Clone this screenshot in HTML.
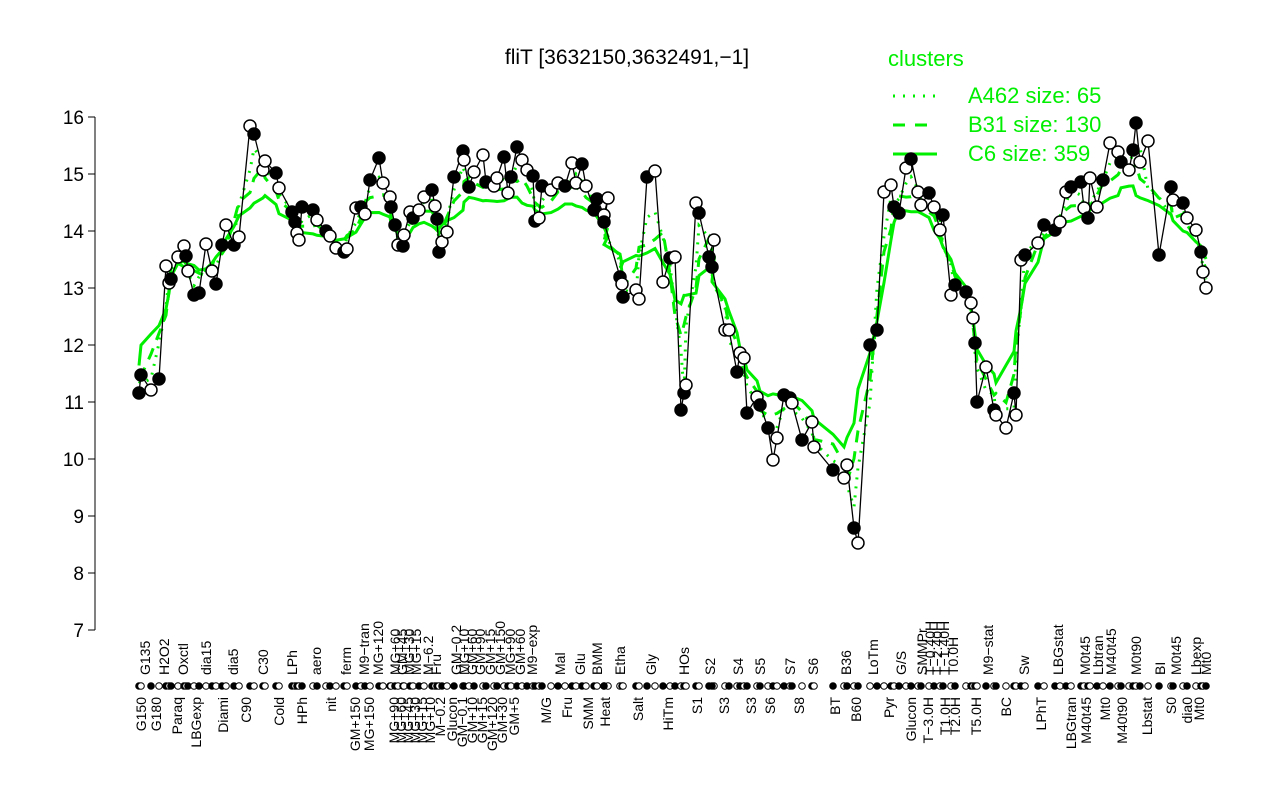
<!DOCTYPE html>
<html><head><meta charset="utf-8"><style>
html,body{margin:0;padding:0;background:#fff;width:1280px;height:800px;overflow:hidden}
svg{display:block;font-family:"Liberation Sans",sans-serif}
</style></head><body>
<svg id="s" width="1280" height="800" viewBox="0 0 1280 800" xmlns="http://www.w3.org/2000/svg">
<text x="627" y="64" font-size="21" text-anchor="middle">fliT [3632150,3632491,−1]</text>
<g fill="#00ee00" font-size="22">
<text x="888" y="66">clusters</text>
<text x="968" y="103">A462 size: 65</text>
<text x="968" y="132">B31 size: 130</text>
<text x="968" y="161">C6 size: 359</text>
</g>
<line x1="893" y1="96" x2="937" y2="96" stroke="#00ee00" stroke-width="3" stroke-dasharray="2,8"/>
<line x1="893" y1="125" x2="937" y2="125" stroke="#00ee00" stroke-width="3" stroke-dasharray="12,10"/>
<line x1="893" y1="154" x2="937" y2="154" stroke="#00ee00" stroke-width="3"/>
<line x1="95" y1="117" x2="95" y2="630" stroke="#000"/>
<g id="ax" font-size="19" text-anchor="end"></g>
<g id="gr" fill="none" stroke="#00ee00" stroke-width="3"></g>
<g id="bl"></g>
<g id="lb" font-size="14"></g>
</svg>
<script>
var P=[[139,393],[141,375],[151,390],[159,379],[166,266],[169,283],[171,279],[178,257],[184,246],[186,256],[188,271],[194,295],[199,293],[206,244],[212,271],[216,284],[222,245],[226,225],[234,245],[239,237],[250,126],[254,134],[263,170],[265,161],[276,173],[279,188],[292,212],[295,222],[297,233],[299,240],[302,207],[313,210],[317,220],[326,231],[330,236],[336,248],[344,252],[347,249],[356,208],[361,207],[365,214],[370,180],[379,158],[383,183],[390,197],[391,207],[395,225],[398,245],[403,246],[404,235],[410,212],[413,218],[419,210],[424,197],[432,190],[435,206],[437,219],[439,252],[442,242],[447,232],[454,177],[463,151],[464,160],[469,187],[474,172],[483,155],[486,182],[494,186],[497,178],[504,157],[508,193],[511,177],[517,147],[522,160],[527,170],[533,176],[535,221],[539,218],[542,186],[551,190],[558,183],[565,186],[572,163],[576,183],[582,164],[586,186],[594,210],[597,199],[604,215],[608,198],[604,222],[620,277],[622,284],[623,297],[636,290],[639,299],[647,177],[655,171],[663,282],[670,258],[675,257],[681,410],[684,393],[686,385],[696,203],[699,213],[709,257],[714,240],[712,267],[725,330],[729,330],[737,372],[740,353],[744,358],[747,413],[757,397],[760,405],[768,428],[773,460],[777,438],[784,395],[790,398],[792,403],[802,440],[812,422],[814,447],[833,470],[844,478],[847,465],[854,528],[858,543],[870,345],[877,330],[884,192],[891,185],[894,207],[899,213],[906,168],[911,159],[918,192],[921,205],[929,193],[934,207],[940,230],[943,215],[951,295],[955,285],[966,292],[971,303],[973,318],[975,343],[977,402],[986,367],[994,410],[996,415],[1006,428],[1014,393],[1016,415],[1021,260],[1025,255],[1038,243],[1044,225],[1055,230],[1060,222],[1066,192],[1071,187],[1081,182],[1084,208],[1088,218],[1090,178],[1097,207],[1103,180],[1110,143],[1118,152],[1121,162],[1129,170],[1133,150],[1136,123],[1140,162],[1148,141],[1159,255],[1171,187],[1173,200],[1183,203],[1187,218],[1196,230],[1201,252],[1203,272],[1206,288]];
var NS="http://www.w3.org/2000/svg";
function el(t,a,p,txt){var e=document.createElementNS(NS,t);for(var k in a)e.setAttribute(k,a[k]);if(txt)e.textContent=txt;p.appendChild(e);return e;}
var ax=document.getElementById('ax');
for(var v=7;v<=16;v++){var y=630-57*(v-7);el('line',{x1:88,y1:y,x2:95,y2:y,stroke:'#000'},ax);el('text',{x:84,y:y+7},ax,''+v);}
function sm(w,bias){var r=[];for(var i=0;i<P.length;i++){var s=0,n=0;for(var j=i-w;j<=i+w;j++){if(j>=0&&j<P.length){s+=P[j][1];n++;}}var y=s/n;y=y+(y<250?bias*(250-y)/100:-bias*(y-250)/150*0.6);r.push([P[i][0],y]);}return r;}
var gr=document.getElementById('gr');
function pl(a,da){var d=a.map(function(p,i){return (i?'L':'M')+p[0].toFixed(1)+' '+p[1].toFixed(1)}).join('');var o={d:d};if(da)o['stroke-dasharray']=da;el('path',o,gr);}
pl(sm(1,5),'2,7');pl(sm(2,15),'12,9');pl(sm(3,35));
var bl=document.getElementById('bl');
el('path',{d:P.map(function(p,i){return (i?'L':'M')+p[0]+' '+p[1]}).join(''),fill:'none',stroke:'#000','stroke-width':1.3},bl);
P.forEach(function(p,i){el('circle',{cx:p[0],cy:p[1],r:6,fill:(i%3==0||i%5==1)?'#000':'#fff',stroke:'#000','stroke-width':1.5},bl);});
var lb=document.getElementById('lb');
P.forEach(function(p,i){el('circle',{cx:p[0],cy:686,r:3.3,fill:i%2?'#fff':'#000',stroke:'#000','stroke-width':1},lb);});
var topL=[["G135",145],["H2O2",164],["Oxctl",183],["dia15",206],["dia5",233],["C30",263],["LPh",292],["aero",316],["ferm",346],["M9−tran",364],["MG+120",378],["MG+60",395],["GM+45",402],["MG+30",409],["MG+15",416],["M−6.2",428],["Fru",436],["GM−0.2",456],["MG+10",464],["GM+60",472],["GM+90",480],["GM+15",490],["GM+150",500],["MG+90",510],["GM+60",520],["M9−exp",532],["Mal",560],["Glu",580],["BMM",597],["Etha",620],["Gly",651],["HOs",684],["S2",710],["S4",738],["S5",760],["S7",790],["S6",813],["B36",846],["LoTm",873],["G/S",901],["SMMPr",922],["T−0.40H",930],["T−2.40H",937],["T−1.40H",944],["T0.0H",953],["M9−stat",988],["Sw",1024],["LBGstat",1058],["M0t45",1085],["Lbtran",1098],["M40t45",1111],["M0t90",1136],["BI",1160],["M0t45",1176],["Lbexp",1196],["Mt0",1206]];
var botL=[["G150",141],["G180",156],["Paraq",177],["LBGexp",196],["Diami",223],["C90",246],["Cold",279],["HPh",302],["nit",331],["GM+150",355],["MG+150",369],["MG+90",394],["MG+60",401],["MG+45",408],["MG+30",415],["MG+15",422],["MG+10",430],["M−0.2",440],["Glucon",452],["GM−0.1",462],["GM+10",472],["GM+15",482],["GM+120",492],["GM+30",502],["GM+5",514],["M/G",546],["Fru",567],["SMM",588],["Heat",605],["Salt",638],["HiTm",668],["S1",697],["S3",724],["S3",751],["S6",770],["S8",799],["BT",835],["B60",856],["Pyr",889],["Glucon",911],["T−3.0H",928],["T1.0H",945],["T2.0H",955],["T5.0H",976],["BC",1006],["LPhT",1041],["LBGtran",1071],["M40t45",1086],["Mt0",1105],["M40t90",1122],["Lbstat",1147],["S0",1171],["dia0",1187],["Mt0",1199]];
topL.forEach(function(t){el('text',{x:0,y:0,transform:'translate('+(t[1]+5)+',675) rotate(-90)','text-anchor':'start'},lb,t[0]);});
botL.forEach(function(t){el('text',{x:0,y:0,transform:'translate('+(t[1]+5)+',697) rotate(-90)','text-anchor':'end'},lb,t[0]);});
</script>
</body></html>
